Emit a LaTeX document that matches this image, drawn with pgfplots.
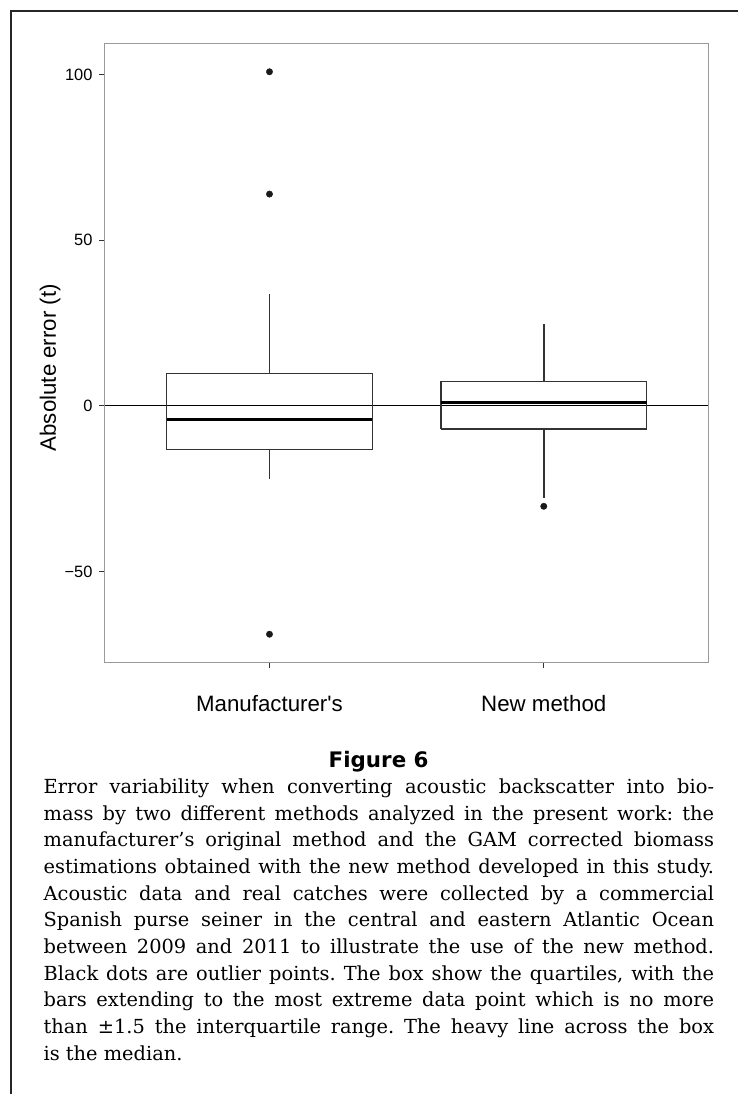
\documentclass[border=0pt]{standalone}
\usepackage{fontspec}
\usepackage{pgfplots}
\pgfplotsset{compat=1.18}
\newfontfamily\axisfont{Liberation Sans}
\newfontfamily\capfont{DejaVu Serif}
\newfontfamily\headfont{DejaVu Sans}
\definecolor{boxcol}{HTML}{333333}
\definecolor{framecol}{HTML}{9A9A9A}
\definecolor{dotcol}{HTML}{1A1A1A}
\newcommand\capline[1]{\hbox to 671pt{#1}}

\begin{document}
\frenchspacing
\begin{tikzpicture}
\path (0pt,0pt) rectangle (739pt,-1095pt);
\draw[line width=2pt, black!85] (11.5pt,-1095pt) -- (11.5pt,-11pt) -- (739pt,-11pt);

\begin{axis}[
  at={(105pt,-663pt)}, anchor=south west,
  scale only axis, width=604pt, height=619.7pt,
  xmin=0.4, xmax=2.6, ymin=-77.4, ymax=109.4,
  axis line style={framecol, line width=1pt},
  tick align=outside, tick pos=left,
  major tick length=6pt,
  tick style={boxcol, line width=1pt},
  xtick={1,2}, xticklabels={Manufacturer's, New method},
  ytick={-50,0,50,100}, yticklabels={−50,0,50,100},
  xticklabel style={font=\axisfont\fontsize{22.3}{26}\selectfont, anchor=base, yshift=-43pt},
  yticklabel style={font=\axisfont\fontsize{16.4}{19}\selectfont, xshift=-3pt},
  ylabel={Absolute error (t)},
  every axis y label/.style={at={(axis description cs:-0.091,0.476)}, rotate=90, anchor=center, font=\axisfont\fontsize{22.3}{26}\selectfont},
  boxst/.style={boxcol, line width=1.6pt, line join=miter},
]
% zero reference line
\addplot[black, line width=1.2pt] coordinates {(0.4,0) (2.6,0)};

% manufacturer's method: box, whiskers, median
\addplot[boxst] coordinates {(0.625,-13.2) (1.375,-13.2) (1.375,9.8) (0.625,9.8) (0.625,-13.2)};
\addplot[boxst] coordinates {(1,9.8) (1,33.8)};
\addplot[boxst] coordinates {(1,-13.2) (1,-22.1)};
\addplot[black, line width=3pt] coordinates {(0.625,-4.2) (1.375,-4.2)};

% new method: box, whiskers, median
\addplot[boxst] coordinates {(1.625,-6.9) (2.375,-6.9) (2.375,7.3) (1.625,7.3) (1.625,-6.9)};
\addplot[boxst] coordinates {(2,7.3) (2,24.6)};
\addplot[boxst] coordinates {(2,-6.9) (2,-27.8)};
\addplot[black, line width=3pt] coordinates {(1.625,1.0) (2.375,1.0)};

% outliers
\addplot[only marks, mark=*, mark size=3.2pt, mark options={draw=dotcol, fill=dotcol}]
  coordinates {(1,100.8) (1,63.9) (1,-68.9) (2,-30.3)};
\end{axis}

\node[anchor=base, font=\headfont\bfseries\fontsize{21.4}{25}\selectfont] at (379pt,-768.3pt) {Figure 6};

\begin{scope}[every node/.style={anchor=base west, inner sep=0pt, font=\capfont\fontsize{19.4}{26.7}\selectfont}]
\node at (43.5pt,-794.3pt) {\capline{Error variability when converting acoustic backscatter into bio-}};
\node at (43.5pt,-821pt) {\capline{mass by two different methods analyzed in the present work: the}};
\node at (43.5pt,-847.6pt) {\capline{manufacturer’s original method and the GAM corrected biomass}};
\node at (43.5pt,-874.3pt) {\capline{estimations obtained with the new method developed in this study.}};
\node at (43.5pt,-901pt) {\capline{Acoustic data and real catches were collected by a commercial}};
\node at (43.5pt,-927.6pt) {\capline{Spanish purse seiner in the central and eastern Atlantic Ocean}};
\node at (43.5pt,-954.3pt) {\capline{between 2009 and 2011 to illustrate the use of the new method.}};
\node at (43.5pt,-981pt) {\capline{Black dots are outlier points. The box show the quartiles, with the}};
\node at (43.5pt,-1007.6pt) {\capline{bars extending to the most extreme data point which is no more}};
\node at (43.5pt,-1034.3pt) {\capline{than ±1.5 the interquartile range. The heavy line across the box}};
\node at (43.5pt,-1061pt) {is the median.};
\end{scope}
\end{tikzpicture}
\end{document}
